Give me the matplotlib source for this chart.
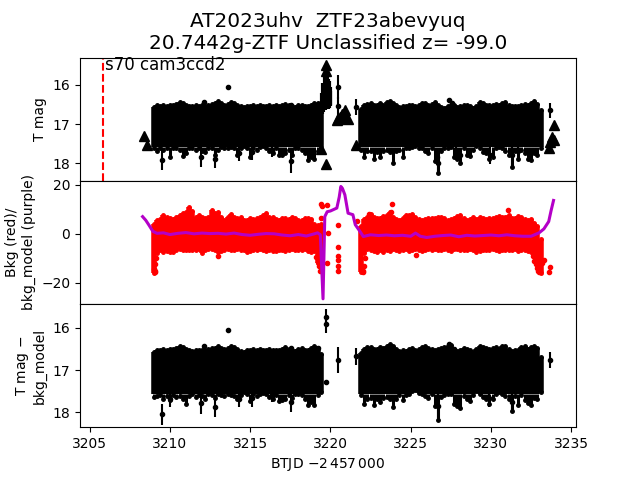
import numpy as np
import matplotlib
matplotlib.use("Agg")
from matplotlib import pyplot as plt

# sampling of the dense band, read across the picture
band_t = [3209.0, 3209.2, 3209.4, 3209.6, 3209.8, 3210.0, 3210.2, 3210.4, 3210.6, 3210.8,
          3211.0, 3211.2, 3211.4, 3211.6, 3211.8, 3212.0, 3212.2, 3212.4, 3212.6, 3212.8,
          3213.0, 3213.2, 3213.4, 3213.6, 3213.8, 3214.0, 3214.2, 3214.4, 3214.6, 3214.8,
          3215.0, 3215.2, 3215.4, 3215.6, 3215.8, 3216.0, 3216.2, 3216.4, 3216.6, 3216.8,
          3217.0, 3217.2, 3217.4, 3217.6, 3217.8, 3218.0, 3218.2, 3218.4, 3218.6, 3218.8,
          3219.0, 3219.2, 3219.4,
          3221.9, 3222.1, 3222.3, 3222.5, 3222.7, 3222.9, 3223.1, 3223.3, 3223.5, 3223.7,
          3223.9, 3224.1, 3224.3, 3224.5, 3224.7, 3224.9, 3225.1, 3225.3, 3225.5, 3225.7,
          3225.9, 3226.1, 3226.3, 3226.5, 3226.7, 3226.9, 3227.1, 3227.3, 3227.5, 3227.7,
          3227.9, 3228.1, 3228.3, 3228.5, 3228.7, 3228.9, 3229.1, 3229.3, 3229.5, 3229.7,
          3229.9, 3230.1, 3230.3, 3230.5, 3230.7, 3230.9, 3231.1, 3231.3, 3231.5, 3231.7,
          3231.9, 3232.1, 3232.3, 3232.5, 3232.7, 3232.9, 3233.1]

# top panel, band edges in mag
top_hi = [16.56, 16.52, 16.53, 16.50, 16.54, 16.52, 16.51, 16.48, 16.43, 16.47,
          16.52, 16.53, 16.55, 16.52, 16.54, 16.52, 16.53, 16.50, 16.48, 16.46,
          16.42, 16.46, 16.50, 16.48, 16.43, 16.47, 16.52, 16.55, 16.57, 16.53,
          16.54, 16.52, 16.53, 16.51, 16.54, 16.53, 16.50, 16.53, 16.52, 16.54,
          16.50, 16.48, 16.52, 16.54, 16.56, 16.52, 16.50, 16.53, 16.54, 16.50,
          16.47, 16.45, 16.55,
          16.62, 16.52, 16.48, 16.46, 16.50, 16.52, 16.47, 16.50, 16.44, 16.40,
          16.45, 16.52, 16.56, 16.53, 16.55, 16.52, 16.50, 16.54, 16.50, 16.47,
          16.45, 16.50, 16.48, 16.44, 16.52, 16.56, 16.58, 16.54, 16.52, 16.50,
          16.56, 16.55, 16.52, 16.50, 16.55, 16.58, 16.54, 16.44, 16.47, 16.50,
          16.52, 16.50, 16.48, 16.52, 16.46, 16.43, 16.50, 16.55, 16.53, 16.55,
          16.50, 16.48, 16.52, 16.47, 16.42, 16.48, 16.65]
top_lo = [17.62, 17.68, 17.62, 17.65, 17.60, 17.85, 17.60, 17.62, 17.65, 17.82,
          17.75, 17.62, 17.60, 17.65, 17.62, 17.70, 17.72, 17.60, 17.62, 17.80,
          17.66, 17.58, 17.62, 17.60, 17.58, 17.60, 17.80, 17.60, 17.55, 17.60,
          17.85, 17.60, 17.65, 17.58, 17.55, 17.60, 17.70, 17.75, 17.60, 17.78,
          17.78, 17.75, 17.65, 17.80, 17.60, 17.60, 17.65, 17.75, 17.92, 17.85,
          17.90, 17.70, 17.60,
          17.65, 17.85, 17.70, 17.68, 17.88, 17.72, 17.85, 17.68, 17.65, 17.72,
          18.00, 17.70, 17.65, 17.85, 17.62, 17.60, 17.58, 17.55, 17.60, 17.62,
          17.70, 17.75, 17.60, 17.95, 18.25, 17.70, 17.62, 17.60, 17.58, 17.85,
          17.90, 18.00, 17.62, 17.78, 17.82, 17.65, 17.55, 17.62, 17.72, 17.75,
          17.90, 17.85, 17.60, 17.58, 17.62, 17.70, 17.78, 18.10, 17.70, 17.90,
          17.65, 17.75, 17.88, 17.92, 17.75, 17.78, 17.60]

# middle panel, red band edges
mid_hi = [4.0, 5.7, 6.2, 7.5, 7.0, 6.5, 6.0, 7.0, 7.5, 8.4,
          9.0, 11.0, 9.2, 7.0, 7.5, 7.0, 6.5, 7.0, 9.5, 8.5,
          8.8, 7.0, 5.8, 7.0, 8.2, 7.0, 6.5, 6.8, 5.8, 5.5,
          6.3, 6.0, 6.5, 7.0, 7.5, 8.6, 7.0, 6.8, 6.0, 5.8,
          6.5, 6.5, 6.2, 7.0, 6.6, 5.8, 5.6, 6.5, 6.3, 6.0,
          4.0, 3.5, 4.0,
          3.0, 6.0, 7.0, 8.0, 6.8, 6.5, 6.4, 7.2, 7.5, 8.8,
          7.0, 6.0, 5.8, 6.5, 7.8, 7.5, 8.0, 7.0, 6.2, 5.6,
          6.0, 6.5, 6.3, 6.5, 6.8, 6.8, 6.3, 5.8, 6.0, 6.5,
          7.2, 7.6, 6.5, 5.8, 6.2, 6.8, 6.2, 6.8, 6.6, 6.0,
          6.3, 6.5, 7.0, 7.3, 7.0, 7.0, 7.6, 6.6, 6.4, 7.2,
          6.8, 6.0, 5.8, 6.0, 4.5, 3.0, -2.0]
mid_lo = [-16.0, -8.0, -6.5, -7.5, -7.2, -7.6, -7.4, -6.5, -6.3, -6.6,
          -6.8, -6.4, -6.6, -6.5, -6.3, -7.8, -6.6, -6.3, -6.2, -6.8,
          -7.4, -7.2, -6.5, -6.3, -6.8, -6.6, -6.2, -6.4, -6.5, -7.6,
          -7.0, -6.8, -6.6, -6.3, -6.8, -7.0, -6.5, -7.2, -7.0, -6.5,
          -6.8, -7.2, -6.6, -6.3, -6.8, -6.5, -6.7, -6.3, -7.0, -7.4,
          -7.0, -12.0, -14.0,
          -15.5, -8.0, -6.2, -6.5, -7.0, -7.5, -6.8, -7.4, -6.5, -7.0,
          -6.3, -6.6, -7.2, -6.4, -6.3, -7.0, -6.6, -6.3, -6.5, -7.0,
          -6.4, -6.2, -6.6, -6.3, -6.5, -6.8, -6.3, -6.6, -7.0, -6.3,
          -6.2, -6.5, -6.4, -6.8, -6.3, -6.5, -7.6, -7.2, -6.6, -6.4,
          -6.8, -6.3, -6.5, -7.0, -6.6, -6.4, -6.8, -6.5, -6.3, -7.0,
          -6.6, -6.8, -7.0, -7.4, -9.0, -12.5, -16.0]

# bottom panel, band edges in mag
bot_hi = [16.58, 16.52, 16.52, 16.51, 16.53, 16.50, 16.50, 16.47, 16.42, 16.46,
          16.51, 16.52, 16.54, 16.52, 16.53, 16.52, 16.52, 16.50, 16.47, 16.47,
          16.44, 16.47, 16.50, 16.48, 16.44, 16.46, 16.50, 16.54, 16.58, 16.53,
          16.52, 16.50, 16.52, 16.50, 16.53, 16.52, 16.50, 16.53, 16.52, 16.53,
          16.50, 16.46, 16.50, 16.53, 16.55, 16.50, 16.48, 16.52, 16.53, 16.48,
          16.44, 16.47, 16.62,
          16.60, 16.50, 16.46, 16.46, 16.50, 16.50, 16.46, 16.48, 16.42, 16.39,
          16.44, 16.50, 16.54, 16.52, 16.54, 16.50, 16.48, 16.52, 16.50, 16.45,
          16.42, 16.48, 16.50, 16.52, 16.50, 16.48, 16.46, 16.42, 16.40, 16.50,
          16.54, 16.52, 16.48, 16.50, 16.53, 16.56, 16.50, 16.42, 16.46, 16.48,
          16.50, 16.48, 16.46, 16.50, 16.44, 16.42, 16.50, 16.54, 16.52, 16.53,
          16.46, 16.44, 16.50, 16.46, 16.42, 16.48, 16.70]
bot_lo = [17.65, 17.62, 17.60, 17.70, 17.62, 17.72, 17.60, 17.64, 17.62, 17.70,
          17.80, 17.62, 17.58, 17.64, 17.60, 17.62, 17.68, 17.58, 17.60, 17.66,
          17.58, 17.60, 17.62, 17.56, 17.60, 17.62, 17.70, 17.60, 17.52, 17.58,
          17.74, 17.58, 17.62, 17.56, 17.54, 17.58, 17.64, 17.68, 17.60, 17.74,
          17.72, 17.70, 17.60, 17.66, 17.58, 17.56, 17.60, 17.70, 17.84, 17.76,
          17.84, 17.60, 17.52,
          17.60, 17.82, 17.68, 17.66, 17.84, 17.68, 17.76, 17.66, 17.64, 17.70,
          17.88, 17.68, 17.60, 17.72, 17.60, 17.58, 17.50, 17.48, 17.54, 17.58,
          17.62, 17.66, 17.58, 17.86, 18.20, 17.64, 17.60, 17.56, 17.58, 17.82,
          17.86, 17.90, 17.62, 17.68, 17.74, 17.60, 17.50, 17.56, 17.64, 17.70,
          17.82, 17.70, 17.56, 17.52, 17.56, 17.62, 17.70, 17.98, 17.62, 17.84,
          17.60, 17.72, 17.78, 17.84, 17.66, 17.70, 17.52]

# single points with error bars, top panel
top_pt_t = [3213.6, 3212.15, 3209.5, 3211.95, 3212.8, 3214.3, 3215.1, 3216.35, 3217.55, 3217.55,
            3219.2, 3226.7, 3226.65, 3227.8, 3228.1, 3229.96, 3231.3, 3231.7, 3220.5, 3220.5,
            3221.6, 3233.65, 3227.4, 3227.55, 3227.7]
top_pt_mag = [16.06, 16.43, 17.92, 17.84, 17.88, 17.75, 17.72, 17.68, 17.95, 16.50,
              16.48, 18.00, 17.85, 17.72, 17.80, 17.78, 17.80, 17.70, 16.05, 16.55,
              16.57, 16.65, 16.38, 16.45, 16.55]
top_pt_err = [0.02, 0.03, 0.25, 0.25, 0.25, 0.20, 0.20, 0.15, 0.30, 0.03,
              0.03, 0.30, 0.15, 0.20, 0.20, 0.25, 0.30, 0.20, 0.30, 0.25,
              0.20, 0.20, 0.03, 0.03, 0.03]

# the bright spike near 3219.7, top panel
spike_t = [3219.45, 3219.55, 3219.65, 3219.7, 3219.75, 3219.8, 3219.85, 3219.9, 3219.95, 3220.0]
spike_hi = [16.20, 15.95, 15.70, 15.50, 15.55, 15.75, 15.85, 15.90, 16.05, 16.15]
spike_lo = [16.75, 16.70, 16.65, 16.60, 16.60, 16.62, 16.62, 16.60, 16.55, 16.50]

# upper limit triangles, top panel
tri_t = [3208.4, 3208.6, 3219.7, 3219.4, 3219.7, 3219.7, 3220.4, 3220.5, 3220.6, 3220.7,
         3220.8, 3220.9, 3221.0, 3221.1, 3221.6, 3233.9, 3233.9, 3233.8, 3233.7, 3233.6]
tri_mag = [17.30, 17.53, 18.03, 17.64, 15.50, 15.65, 16.90, 16.88, 16.82, 16.75,
           16.85, 16.65, 16.85, 16.88, 17.54, 17.03, 17.40, 17.32, 17.45, 17.62]

# background outliers and end blobs, middle panel
bkg_pt_t = [3213.0, 3219.4, 3219.45, 3219.8, 3219.4, 3220.45, 3219.8, 3219.85, 3220.45, 3220.45,
            3220.5, 3220.5, 3220.5, 3225.35, 3223.85, 3231.05, 3222.4, 3223.8, 3221.65, 3233.66,
            3233.6, 3233.3, 3233.2,
            3209.0, 3209.05, 3209.1, 3209.1, 3209.15, 3221.95, 3222.0, 3222.05, 3222.1, 3222.15,
            3232.6, 3232.7, 3232.8, 3232.85, 3232.95, 3233.0, 3233.05, 3219.1, 3219.25, 3219.3, 3219.35]
bkg_pt_val = [-9.0, 12.2, 11.5, 11.8, 6.4, 3.7, -12.0, 0.2, -5.4, -9.1,
              -10.5, -13.0, -15.1, -8.6, 12.2, 9.8, 8.2, 8.8, 5.4, -13.6,
              -15.7, -10.6, -12.0,
              -14.5, -15.5, -15.0, -12.5, -10.0, -14.0, -15.5, -15.0, -13.0, -10.0,
              -9.0, -11.0, -12.5, -14.0, -15.0, -15.5, -15.0, -9.5, -11.5, -13.0, -15.0]

# purple background model
model_t = [3208.3, 3208.5, 3208.7, 3208.94, 3209.2, 3209.6, 3210.0, 3210.5, 3211.0, 3211.5,
           3212.0, 3212.5, 3213.0, 3213.5, 3214.0, 3214.5, 3215.0, 3215.5, 3216.0, 3216.5,
           3217.0, 3217.5, 3218.0, 3218.5, 3219.0, 3219.2, 3219.37, 3219.54, 3219.65, 3219.8,
           3220.0, 3220.4, 3220.55, 3220.65, 3220.75, 3220.9, 3221.1, 3221.4, 3221.55, 3221.85,
           3222.05, 3222.5, 3223.0, 3223.5, 3224.0, 3224.5, 3225.0, 3225.3, 3225.6, 3226.0,
           3226.5, 3227.0, 3227.5, 3228.0, 3228.5, 3229.0, 3229.5, 3230.0, 3230.5, 3231.0,
           3231.5, 3232.0, 3232.5, 3233.0, 3233.3, 3233.6, 3233.75, 3233.9]
model_val = [7.0, 5.5, 3.5, 1.0, 0.2, 0.4, -0.3, 0.2, 0.5, 0.0,
             0.3, 0.1, 0.2, -0.1, 0.3, -0.3, -0.6, -0.2, 0.1, 0.0,
             -0.5, -0.8, -0.3, -0.9, 0.0, 0.4, -0.4, -26.5, 7.0, 9.0,
             9.3, 10.5, 15.0, 19.3, 18.5, 15.9, 8.4, 7.8, 3.7, 0.9,
             -1.1, -0.4, -0.7, -0.5, -0.8, -0.6, -1.0, 0.3, -1.0, -1.5,
             -1.0, -0.7, -0.5, -1.2, -0.6, -0.9, -0.7, -0.5, -0.8, -0.4,
             -0.8, -1.0, -1.0, 0.4, 2.0, 5.0, 9.5, 13.6]

# single points with error bars, bottom panel
bot_pt_t = [3213.6, 3212.15, 3209.5, 3211.95, 3212.8, 3214.3, 3215.1, 3216.35, 3217.55, 3210.0,
            3219.7, 3219.75, 3219.75, 3220.47, 3221.6, 3233.65, 3226.7, 3231.3, 3229.9, 3227.4,
            3227.7, 3217.55, 3219.2]
bot_pt_mag = [16.05, 16.43, 18.05, 17.79, 17.87, 17.69, 17.67, 17.60, 17.75, 17.69,
              17.29, 15.75, 15.91, 16.76, 16.67, 16.76, 17.85, 17.77, 17.67, 16.37,
              16.50, 16.47, 16.47]
bot_pt_err = [0.03, 0.03, 0.25, 0.25, 0.25, 0.20, 0.20, 0.15, 0.25, 0.20,
              0.03, 0.20, 0.20, 0.30, 0.20, 0.20, 0.30, 0.25, 0.20, 0.03,
              0.03, 0.03, 0.03]


def draw_band(ax, hi, lo, color, core=None):
    # thick bars side by side make up the solid band, thin ones stick out below it
    hi = np.array(hi)
    lo = np.array(lo)
    solid = lo if core is None else np.minimum(lo, core)
    ax.vlines(band_t, hi, solid, color=color, linewidth=4)
    ax.vlines(band_t, solid, lo, color=color, linewidth=2.2)
    ax.plot(band_t, hi, ".", color=color, markersize=5)
    ax.plot(band_t, lo, ".", color=color, markersize=5)


fig, (ax1, ax2, ax3) = plt.subplots(3, 1, sharex=True, figsize=(6.4, 4.8), dpi=100)
fig.subplots_adjust(hspace=0)

draw_band(ax1, top_hi, top_lo, "k", core=17.58)
ax1.vlines(spike_t, spike_hi, spike_lo, color="k", linewidth=3)
ax1.errorbar(top_pt_t, top_pt_mag, yerr=top_pt_err, fmt=".", color="k", elinewidth=1.5, capsize=0)
ax1.plot(tri_t, tri_mag, "k^", markersize=6.5)
ax1.axvline(3205.85, color="r", linestyle="--", linewidth=1.5)
ax1.text(3205.95, 15.62, "s70 cam3ccd2", fontsize=12)
ax1.set_ylim(18.45, 15.3)
ax1.set_yticks([16, 17, 18])
ax1.set_ylabel("T mag")
ax1.set_title("AT2023uhv  ZTF23abevyuq\n20.7442g-ZTF Unclassified z= -99.0", fontsize=14.4)
ax1.tick_params(axis="x", bottom=False)

draw_band(ax2, mid_lo, mid_hi, "r")
ax2.plot(bkg_pt_t, bkg_pt_val, "r.")
ax2.plot(model_t, model_val, color="#b400c8", linewidth=2.2)
ax2.set_ylim(-28.6, 21.6)
ax2.set_yticks([-20, 0, 20])
ax2.set_ylabel("Bkg (red)/\nbkg_model (purple)")
ax2.tick_params(axis="x", bottom=False)

draw_band(ax3, bot_hi, bot_lo, "k", core=17.58)
ax3.errorbar(bot_pt_t, bot_pt_mag, yerr=bot_pt_err, fmt=".", color="k", elinewidth=1.5, capsize=0)
ax3.set_ylim(18.36, 15.43)
ax3.set_yticks([16, 17, 18])
ax3.set_ylabel("T mag $-$\nbkg_model")
ax3.set_xlim(3204.4, 3235.3)
ax3.set_xticks([3205, 3210, 3215, 3220, 3225, 3230, 3235])
ax3.set_xlabel(r"BTJD $-2\,457\,000$")

fig.savefig("out.png", dpi=100)
